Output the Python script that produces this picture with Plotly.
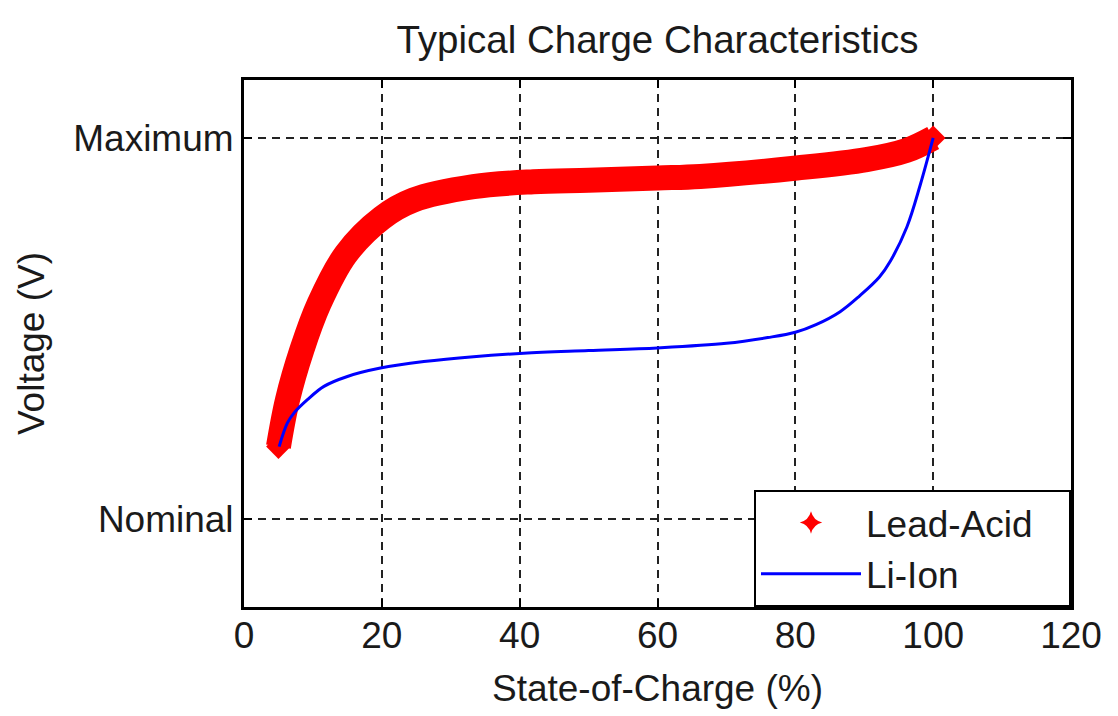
import plotly.graph_objects as go

# State-of-charge (%) and relative voltage (0 = Nominal, 1 = Maximum)
lead_x = [5, 6.3, 8.4, 10.9, 14.8, 20, 24.6, 33.3, 42, 50, 60, 66.2, 80.2, 90.3, 96.1, 100]
lead_y = [0.19, 0.312, 0.444, 0.565, 0.695, 0.790, 0.837, 0.872, 0.885, 0.889, 0.895, 0.899, 0.921, 0.943, 0.967, 1.0]

li_x = [5.1, 6.3, 7.3, 9.2, 11.6, 15, 19.8, 26.1, 33.3, 40.6, 50, 60, 70, 76, 80,
        83, 86.5, 89.3, 92.2, 93.8, 96.2, 98.1, 100]
li_y = [0.19, 0.252, 0.279, 0.313, 0.348, 0.374, 0.396, 0.413, 0.426, 0.435, 0.442, 0.449,
        0.461, 0.476, 0.490, 0.510, 0.544, 0.585, 0.635, 0.677, 0.767, 0.875, 1.0]

x_ticks = [0, 20, 40, 60, 80, 100, 120]
y_tickvals = [0, 1]
y_ticktext = ["Nominal", "Maximum"]

FONT = "Liberation Sans, Arial, sans-serif"
TXT = "#1a1a1a"
NB = "\u00a0"

# end markers only (interior points are covered by the thick line)
lead_marker_sizes = [19] + [0] * (len(lead_x) - 2) + [19]

fig = go.Figure()
fig.add_trace(go.Scatter(
    x=lead_x, y=lead_y, mode="lines+markers",
    line=dict(color="#FF0000", width=25, shape="spline"),
    marker=dict(symbol="diamond", size=lead_marker_sizes, color="#FF0000", opacity=1,
                line=dict(width=0)),
    showlegend=False,
))
fig.add_trace(go.Scatter(
    x=li_x, y=li_y, mode="lines",
    line=dict(color="#0000FF", width=3, shape="spline"),
    showlegend=False,
))
# legend entries
fig.add_trace(go.Scatter(
    x=[None], y=[None], mode="markers", name="Lead-Acid" + NB * 3,
    marker=dict(symbol="star-diamond", size=16, color="#FF0000", line=dict(width=0)),
))
fig.add_trace(go.Scatter(
    x=[None], y=[None], mode="lines", name="Li-Ion",
    line=dict(color="#0000FF", width=3),
))

axis_common = dict(
    showline=True, linecolor="black", linewidth=3, mirror="ticks",
    ticks="inside", ticklen=8, tickwidth=2, tickcolor="black",
    showgrid=True, gridcolor="#222222", gridwidth=1.5, griddash="8px,6px",
    zeroline=False,
    tickfont=dict(family=FONT, size=37, color=TXT),
)

fig.update_layout(
    width=1110, height=708,
    margin=dict(l=236, r=47, t=72, b=109),
    paper_bgcolor="white", plot_bgcolor="white",
    font=dict(family=FONT, color=TXT),
    title=dict(text="Typical Charge Characteristics", x=0.5, xref="paper",
               y=1 - 32 / 708, yref="container", yanchor="middle", xanchor="center",
               font=dict(family=FONT, size=38.5, color=TXT)),
    xaxis=dict(range=[0, 120], tickvals=x_ticks, ticklabelstandoff=-6,
               title=dict(text="State-of-Charge (%)", font=dict(family=FONT, size=37, color=TXT), standoff=20),
               **axis_common),
    yaxis=dict(range=[-0.231, 1.152], tickvals=y_tickvals, ticktext=y_ticktext,
               title=dict(text="Voltage (V)", font=dict(family=FONT, size=37, color=TXT), standoff=18),
               **axis_common),
    legend=dict(x=1, y=0, xanchor="right", yanchor="bottom",
                bgcolor="white", bordercolor="black", borderwidth=2,
                itemwidth=100,
                font=dict(family=FONT, size=37, color=TXT),
                tracegroupgap=0),
)

fig.write_html("out.html")
